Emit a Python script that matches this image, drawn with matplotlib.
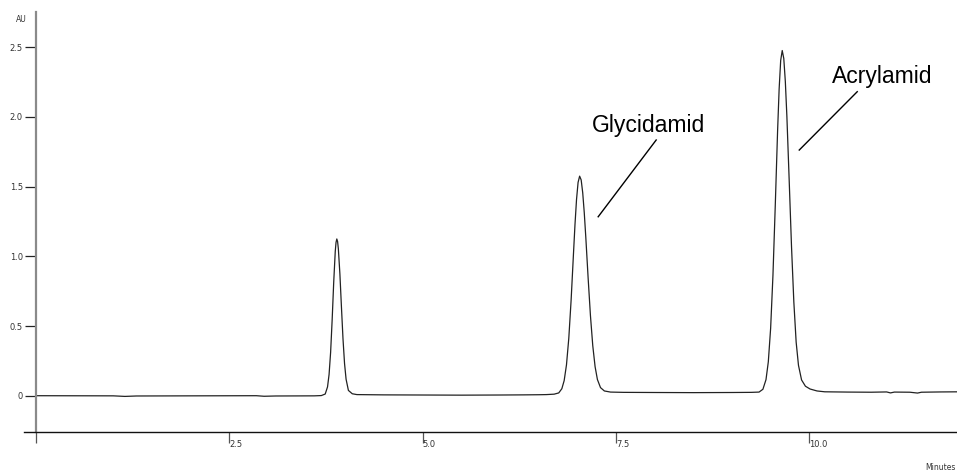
import matplotlib.pyplot as plt

# chromatogram trace (minutes, AU)
time_min = [0.0, 1.0, 1.15, 1.3, 2.0, 2.85, 2.95, 3.1, 3.6, 3.69,
            3.74, 3.77, 3.79, 3.81, 3.83, 3.85, 3.87, 3.88, 3.89, 3.90,
            3.91, 3.93, 3.95, 3.97, 3.99, 4.01, 4.04, 4.09, 4.15, 4.5,
            5.0, 5.5, 6.0, 6.3, 6.5, 6.6, 6.70, 6.76, 6.80, 6.83,
            6.86, 6.89, 6.92, 6.95, 6.97, 6.99, 7.01, 7.03, 7.05, 7.07,
            7.09, 7.11, 7.14, 7.17, 7.20, 7.23, 7.26, 7.30, 7.35, 7.43,
            7.6, 8.0, 8.5, 9.0, 9.25, 9.35, 9.40, 9.44, 9.47, 9.50,
            9.53, 9.56, 9.59, 9.61, 9.63, 9.65, 9.67, 9.69, 9.71, 9.74,
            9.77, 9.80, 9.83, 9.86, 9.90, 9.95, 10.01, 10.10, 10.20, 10.5,
            10.8, 11.0, 11.05, 11.1, 11.3, 11.4, 11.45, 11.7, 11.95]
absorbance_au = [0.002, 0.001, -0.003, 0.0, 0.001, 0.002, -0.002, 0.0, 0.001, 0.003,
                 0.014, 0.065, 0.154, 0.313, 0.547, 0.815, 1.036, 1.10, 1.125, 1.107,
                 1.055, 0.874, 0.637, 0.41, 0.233, 0.12, 0.04, 0.016, 0.01, 0.008,
                 0.007, 0.006, 0.007, 0.008, 0.009, 0.01, 0.013, 0.022, 0.052, 0.11,
                 0.223, 0.414, 0.687, 1.014, 1.228, 1.408, 1.53, 1.575, 1.548, 1.456,
                 1.313, 1.136, 0.845, 0.575, 0.36, 0.21, 0.118, 0.06, 0.036, 0.028,
                 0.026, 0.025, 0.024, 0.025, 0.026, 0.028, 0.048, 0.117, 0.245, 0.485,
                 0.865, 1.366, 1.899, 2.20, 2.404, 2.475, 2.418, 2.254, 2.005, 1.544,
                 1.071, 0.674, 0.386, 0.22, 0.115, 0.07, 0.05, 0.036, 0.03, 0.028,
                 0.027, 0.029, 0.022, 0.028, 0.027, 0.021, 0.027, 0.029, 0.03]

x_ticks = [0, 2.5, 5.0, 7.5, 10.0]
x_tick_labels = ['', '2.5', '5.0', '7.5', '10.0']
y_ticks = [0, 0.5, 1.0, 1.5, 2.0, 2.5]
y_tick_labels = ['0', '0.5', '1.0', '1.5', '2.0', '2.5']

peak_names = ['Glycidamid', 'Acrylamid']

fig = plt.figure(figsize=(9.57, 4.73), dpi=100)
ax = fig.add_axes([24 / 957, 41 / 473, 933 / 957, 420 / 473])

ax.plot(time_min, absorbance_au, color='#222222', lw=0.9)

ax.set_xlim(-0.155, 11.91)
ax.set_ylim(-0.258, 2.751)

ax.spines['top'].set_visible(False)
ax.spines['right'].set_visible(False)
ax.spines['left'].set_position(('data', 0))
ax.spines['left'].set_color('#8a8a8a')
ax.spines['left'].set_linewidth(1.6)
ax.spines['bottom'].set_color('#111111')
ax.spines['bottom'].set_linewidth(1.0)

ax.set_xticks(x_ticks, x_tick_labels)
ax.set_yticks(y_ticks, y_tick_labels)
ax.tick_params(axis='x', direction='out', length=8, width=0.9, color='#555555',
               pad=-2, labelsize=6, labelcolor='#333333')
for lab in ax.get_xticklabels():
    lab.set_horizontalalignment('left')
ax.tick_params(axis='y', direction='out', length=8, width=0.9, color='#222222',
               pad=1.5, labelsize=6, labelcolor='#333333')

# axis captions
fig.text(21.5 / 957, 1 - 20 / 473, 'AU', fontsize=5.5, color='#333333',
         ha='center', va='center')
fig.text(925 / 957, 1 - 467 / 473, 'Minutes', fontsize=5.5, color='#333333',
         ha='left', va='center')

# peak labels with leader lines
line_low = [(7.27, 1.284), (9.87, 1.762)]
line_high = [(8.02, 1.834), (10.62, 2.18)]
text_pos = [(7.186, 1.893), (10.29, 2.244)]
for name, lo, hi, tp in zip(peak_names, line_low, line_high, text_pos):
    ax.plot([lo[0], hi[0]], [lo[1], hi[1]], color='black', lw=1.0)
    ax.text(tp[0], tp[1], name, fontsize=16.5, family='Liberation Sans',
            ha='left', va='baseline', color='black')

fig.savefig('out.png', dpi=100)
